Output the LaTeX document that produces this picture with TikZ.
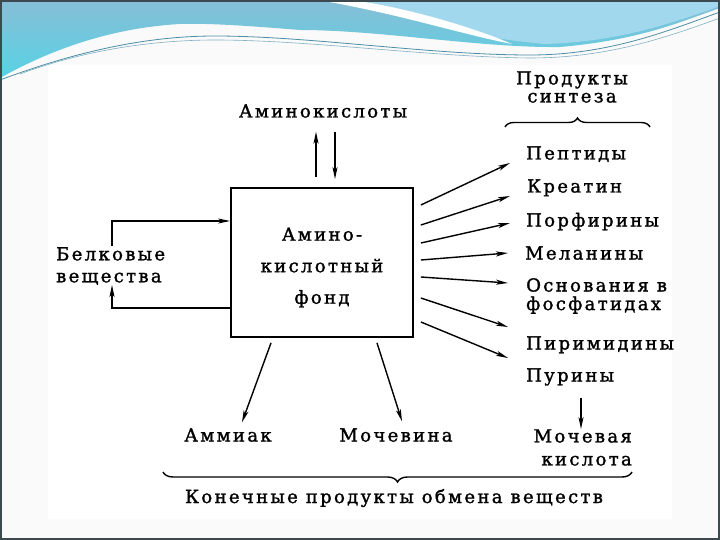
\documentclass[tikz,border=0pt]{standalone}
\usepackage{fontspec}
\newfontfamily\dfont{DejaVu Serif}[LetterSpace=13,FakeBold=1.5]
\usetikzlibrary{arrows.meta,decorations.pathreplacing,calc}
\definecolor{pagebg}{HTML}{FAFAFA}
\definecolor{waveTop}{HTML}{86BED6}
\definecolor{waveBot}{HTML}{58D2E4}
\definecolor{waveR}{HTML}{A2D8EE}
\definecolor{waveLine}{HTML}{4C8EA6}
\definecolor{frame}{HTML}{3C4A50}
\newcommand{\wsp}{\hspace{8pt}}
\begin{document}
\begin{tikzpicture}[x=1pt,y=-1pt,
  lbl/.style={font=\dfont\fontsize{18}{20}\selectfont, inner sep=0pt, text height=13pt, text depth=0pt},
  mlbl/.style={font=\dfont\fontsize{18}{#1}\selectfont, inner sep=0pt},
  arr/.style={-{Stealth[length=12pt,width=5pt,inset=3pt]}, line width=1.4pt},
  fundbox/.style={draw, line width=1.8pt, minimum width=182pt, minimum height=149pt, inner sep=0pt},
  bracestyle/.style={decorate, line width=1.4pt, decoration={brace, amplitude=#1, aspect=0.5}}]
\useasboundingbox (0,0) rectangle (720,540);
% slide background
\fill[pagebg] (0,0) rectangle (720,540);
\fill[white] (48,65) rectangle (672,519);
% wave
\shade[top color=waveTop, bottom color=waveBot]
  (0,0) -- (720,0) -- (720,8) .. controls (680,22) and (640,40) .. (560,47)
  .. controls (480,48) and (380,30) .. (300,30)
  .. controls (250,26) and (210,23) .. (180,24)
  .. controls (110,28) and (50,50) .. (0,78) -- cycle;
\fill[waveR] (350,0) -- (720,0) -- (720,6) .. controls (660,28) and (610,42) .. (545,44)
  .. controls (470,38) and (410,18) .. (350,0) -- cycle;
\fill[white] (318,0) .. controls (400,14) and (460,34) .. (512,44)
  .. controls (470,26) and (400,6) .. (350,0) -- cycle;
\draw[waveLine, line width=0.8pt] (0,80) .. controls (80,50) and (150,36) .. (215,36)
  .. controls (310,36) and (430,55) .. (530,55) .. controls (610,55) and (670,30) .. (720,12);
\draw[waveLine!70, line width=0.6pt] (20,74) .. controls (90,48) and (160,40) .. (215,40)
  .. controls (310,40) and (430,57) .. (530,58) .. controls (610,58) and (670,36) .. (720,18);
\draw[frame, line width=2pt] (1,1) rectangle (719,539);
% diagram
\node[lbl] (amk) at (323,111) {Аминокислоты};
\node[fundbox] (fund) at (322,262.5) {};
\node[mlbl=31.5, align=center] (fundtxt) at (322,267.5) {Амино-\\кислотный\\фонд};
\node[mlbl=22, align=left, anchor=west] (belk) at (56,266) {Белковые\\вещества};
\node[lbl, anchor=west] (pep) at (526,153) {Пептиды};
\node[lbl, anchor=west] (kre) at (527,186) {Креатин};
\node[lbl, anchor=west] (por) at (526,220) {Порфирины};
\node[lbl, anchor=west] (mel) at (525,253) {Меланины};
\node[mlbl=18.5, align=left, anchor=west] (osn) at (526,296) {Основания\wsp в\\фосфатидах};
\node[lbl, anchor=west] (pir) at (526,343) {Пиримидины};
\node[lbl, anchor=west] (pur) at (526,375) {Пурины};
\node[mlbl=18, align=center] (prod) at (572,87) {Продукты\\синтеза};
\node[lbl] (amm) at (228,435) {Аммиак};
\node[lbl] (moch) at (396,435) {Мочевина};
\node[mlbl=23, align=right, anchor=east] (mk) at (632,447.5) {Мочевая\\кислота};
\node[lbl] (kon) at (394,496.5) {Конечные\wsp продукты\wsp обмена\wsp веществ};
% connectors
\draw[arr] ($(fund.north)+(-6,-10)$) -- ($(amk.south)+(-7,14)$);
\draw[arr] ($(amk.south)+(12,14)$) -- ($(fund.north)+(13,-8)$);
\draw[arr] ($(belk.north west)+(56,-1)$) |- ($(fund.west)+(0,-41.5)$);
\draw[arr] ($(fund.west)+(0,45.5)$) -| ($(belk.south west)+(56,0)$);
\draw[arr] ($(fund.east)+(7,-57.5)$) -- ($(pep.west)+(-16,10)$);
\draw[arr] ($(fund.east)+(7,-37.5)$) -- ($(kre.west)+(-17,10)$);
\draw[arr] ($(fund.east)+(7,-19.5)$) -- ($(por.west)+(-16,3)$);
\draw[arr] ($(fund.east)+(7,-2.5)$) -- ($(mel.west)+(-17,0)$);
\draw[arr] ($(fund.east)+(7,14.5)$) -- ($(osn.west)+(-18,-13)$);
\draw[arr] ($(fund.east)+(7,35.5)$) -- ($(pir.west)+(-18,-16)$);
\draw[arr] ($(fund.east)+(7,59.5)$) -- ($(pur.west)+(-18,-17)$);
\draw[arr] ($(fund.south)+(-51,5)$) -- ($(amm.north)+(14,-6)$);
\draw[arr] ($(fund.south)+(55,5)$) -- ($(moch.north)+(6,-7)$);
\draw[arr] ($(pur.south west)+(55,16)$) -- ($(pur.south west |- mk.north)+(55,0)$);
% braces
\coordinate (tb1) at (505,127);
\coordinate (tb2) at (650,127);
\coordinate (bb1) at (632,472);
\coordinate (bb2) at (163,472);
\draw[bracestyle=9pt] (tb1) -- (tb2);
\draw[bracestyle=10pt] (bb1) -- (bb2);
\end{tikzpicture}
\end{document}
